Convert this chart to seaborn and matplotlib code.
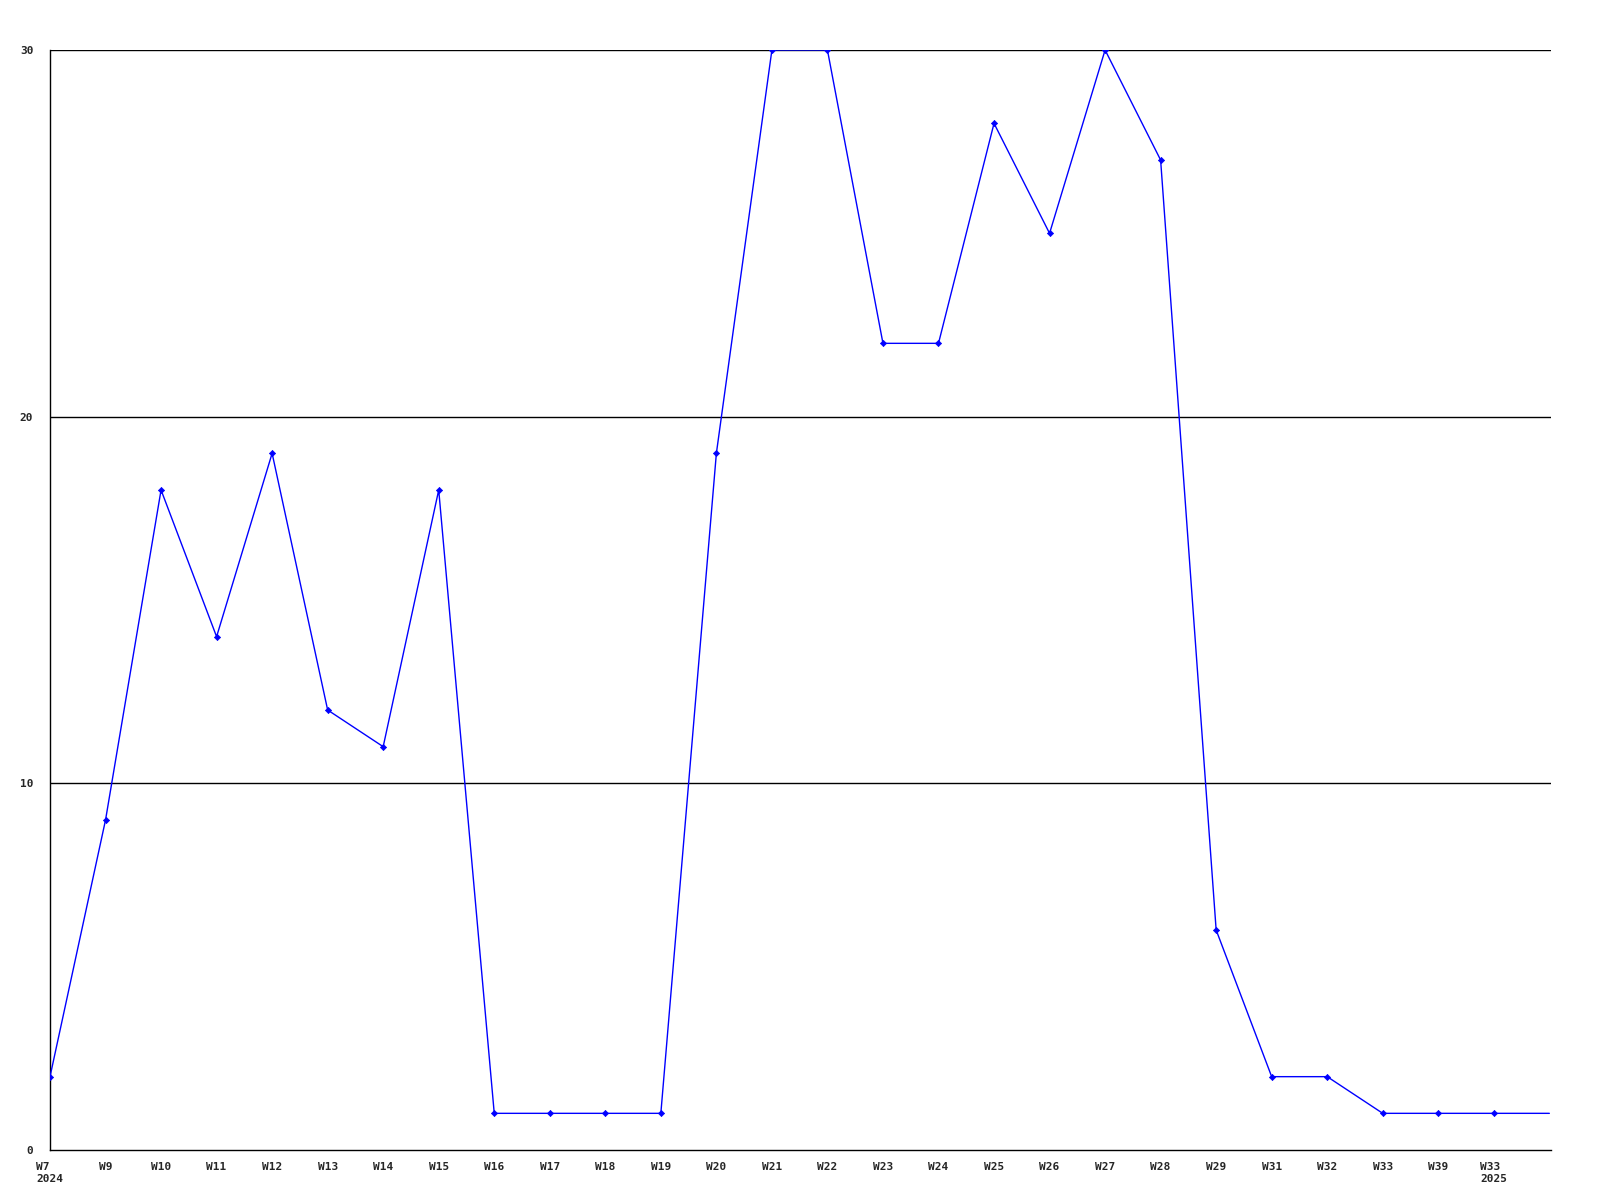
import matplotlib
matplotlib.use("Agg")
import matplotlib.pyplot as plt
import seaborn as sns
import pandas as pd
import numpy as np

labels = ["W7\n2024", "W9", "W10", "W11", "W12", "W13", "W14", "W15", "W16", "W17",
          "W18", "W19", "W20", "W21", "W22", "W23", "W24", "W25", "W26", "W27",
          "W28", "W29", "W31", "W32", "W33", "W39", "W33\n2025"]
values = [2, 9, 18, 14, 19, 12, 11, 18, 1, 1,
          1, 1, 19, 30, 30, 22, 22, 28, 25, 30,
          27, 6, 2, 2, 1, 1, 1]
# line continues past the last labelled week at the same level
tail_value = [1]
y_ticks = [0, 10, 20, 30]

sns.set_theme(style="white")
plt.rcParams['font.family'] = ['DejaVu Sans Mono']

fig = plt.figure(figsize=(16, 12), dpi=100)
ax = fig.add_axes([50/1600, 1 - 1150/1200, 1501/1600, 1100/1200])

n = len(values)
df_line = pd.DataFrame({"x": np.arange(n + len(tail_value)), "y": values + tail_value})
df_pts = pd.DataFrame({"x": np.arange(n), "y": values})

for yv in y_ticks[1:]:
    ax.axhline(yv, color="black", lw=1.0, zorder=1)

sns.lineplot(data=df_line, x="x", y="y", ax=ax, color="#0000ff", lw=1.0, zorder=3)
sns.scatterplot(data=df_pts, x="x", y="y", ax=ax, color="#0000ff", marker="D",
                s=10, edgecolor="#0000ff", linewidth=0.5, zorder=4)

ax.set_xlim(0, n + 0.03)
ax.set_ylim(0, 30)
ax.set_xticks(np.arange(n))
ax.set_xticklabels(labels, fontsize=8, fontweight="bold", multialignment="left")
ax.set_yticks(y_ticks)
ax.set_yticklabels([str(v) for v in y_ticks], fontsize=8, fontweight="bold")
ax.tick_params(axis="both", length=0)
ax.tick_params(axis="y", pad=12)
ax.tick_params(axis="x", pad=9)
ax.set_xlabel("")
ax.set_ylabel("")
for s in ["top", "right"]:
    ax.spines[s].set_visible(False)
for s in ["left", "bottom"]:
    ax.spines[s].set_color("black")
    ax.spines[s].set_linewidth(1.0)
ax.grid(False)

fig.savefig("out.png", dpi=100, facecolor="white")
